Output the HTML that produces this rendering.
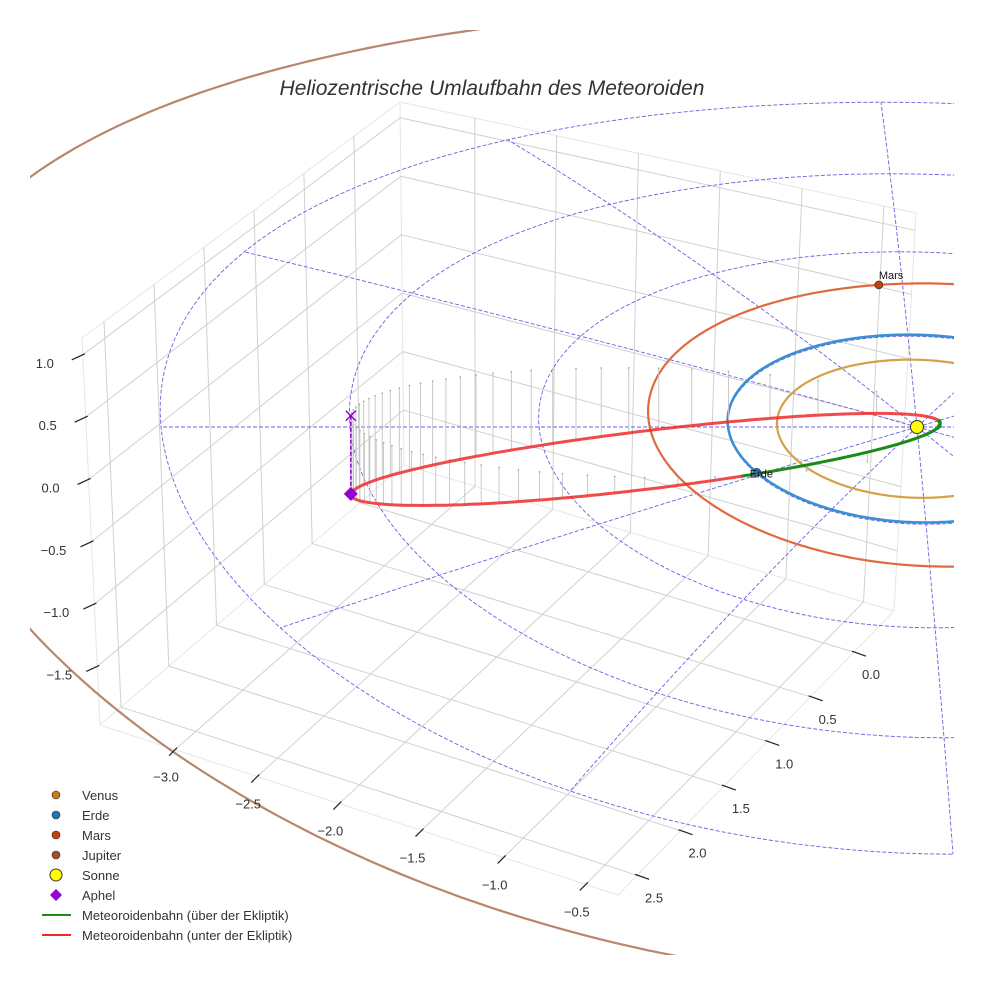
<!DOCTYPE html>
<html><head><meta charset="utf-8"><style>
html,body{margin:0;padding:0;background:#fff;}
svg{display:block;font-family:"Liberation Sans",sans-serif;}
</style></head><body>
<svg id="chart" width="984" height="984" viewBox="0 0 984 984" xmlns="http://www.w3.org/2000/svg">
<defs><clipPath id="clip"><rect x="30" y="30" width="924" height="925"/></clipPath></defs>
<rect width="984" height="984" fill="#fff"/>
<g id="grid" clip-path="url(#clip)"></g>
<g id="eclip" clip-path="url(#clip)"></g>
<g id="orbits" clip-path="url(#clip)"></g>
<g id="meteor" clip-path="url(#clip)"></g>
<g id="ticks"></g>
<text x="492" y="95" text-anchor="middle" font-size="21" font-style="italic" fill="#333">Heliozentrische Umlaufbahn des Meteoroiden</text>
<g id="legend"></g>
</svg>
<script>
// ---- data ----
const xTicks = [-3.0, -2.5, -2.0, -1.5, -1.0, -0.5];
const yTicks = [0.0, 0.5, 1.0, 1.5, 2.0, 2.5];
const zTicks = [-1.5, -1.0, -0.5, 0.0, 0.5, 1.0];
const xRange = [-3.457, -0.304];
const yRange = [-0.461, 2.72];
const zRange = [-1.97, 1.135];
const planetNames = ["Venus", "Erde", "Mars", "Jupiter"];
const planetA = [0.735, 1.0, 1.52, 5.3];
const planetE = [0.007, 0.017, 0.093, 0.047];
const planetPeri = [0, 90, 135, 90];
const planetPosAngle = [20, 151.4, 265.5, 10];
const planetColors = ["#d4a04a", "#3b8fd4", "#e06a40", "#b8866c"];
const planetDotColors = ["#c87c1a", "#1f77b4", "#c8400a", "#a0522d"];
const polarRadii = [1, 2, 3, 4];
const polarAngles = [0, 30, 60, 90, 120, 150, 180, 210, 240, 270, 300, 330];
const meteorQ = [0.125];
const aphelionPos = [-2.99, -0.12, -0.63];
const nodeLongitude = [151.4];
const stemCount = [60];

const NS = "http://www.w3.org/2000/svg";
function mk(parent, tag, attrs){ const el=document.createElementNS(NS,tag); for(const k in attrs) el.setAttribute(k,attrs[k]); parent.appendChild(el); return el; }
// ecliptic projection (u,v in AU, z in AU)
function P(u,v,z){ return [917 + 189*u + 9*v, 427 + 94*v + 3.2*v*v - 124*z]; }
function pathD(pts){ return pts.map((p,i)=>(i?'L':'M')+p[0].toFixed(1)+' '+p[1].toFixed(1)).join(''); }

// ---- box faces (bilinear) ----
function bil(c00,c10,c01,c11,s,t){ return [
 c00[0]*(1-s)*(1-t)+c10[0]*s*(1-t)+c01[0]*(1-s)*t+c11[0]*s*t,
 c00[1]*(1-s)*(1-t)+c10[1]*s*(1-t)+c01[1]*(1-s)*t+c11[1]*s*t]; }
const fx = x=>(x-xRange[0])/(xRange[1]-xRange[0]);
const fy = y=>(y-yRange[0])/(yRange[1]-yRange[0]);
const fz = z=>(z-zRange[0])/(zRange[1]-zRange[0]);
const L = {a:[404,465],b:[100,725],c:[400,102],d:[82,338]};   // left wall: s=y, t=z
const B = {a:[404,465],b:[894,611],c:[400,102],d:[916,213]};  // back wall: s=x, t=z
const F = {a:[404,465],b:[894,611],c:[100,725],d:[618,895]};  // floor: s=x, t=y
const left=(y,z)=>bil(L.a,L.b,L.c,L.d,fy(y),fz(z));
const back=(x,z)=>bil(B.a,B.b,B.c,B.d,fx(x),fz(z));
const floor=(x,y)=>bil(F.a,F.b,F.c,F.d,fx(x),fy(y));
const grid=document.getElementById('grid');
function gl(p,q,name,col){ const l=mk(grid,'line',{x1:p[0],y1:p[1],x2:q[0],y2:q[1],stroke:col||'#d0d0d0','stroke-width':1});
   }
[[L.a,L.b],[L.b,L.d],[L.d,L.c],[L.c,L.a],[B.a,B.b],[B.b,B.d],[B.d,B.c],[F.b,F.d],[F.d,F.c]].forEach(e=>gl(e[0],e[1],'pane-edge','#e6e6e6'));
yTicks.forEach(y=>{ gl(left(y,zRange[0]),left(y,zRange[1]),'left-wall-gridline'); gl(floor(xRange[0],y),floor(xRange[1],y),'floor-gridline'); });
zTicks.forEach(z=>{ gl(left(yRange[0],z),left(yRange[1],z),'left-wall-gridline'); gl(back(xRange[0],z),back(xRange[1],z),'back-wall-gridline'); });
xTicks.forEach(x=>{ gl(back(x,zRange[0]),back(x,zRange[1]),'back-wall-gridline'); gl(floor(x,yRange[0]),floor(x,yRange[1]),'floor-gridline'); });

// ---- ticks ----
const tk=document.getElementById('ticks');
function tick(p,d1,d2,off,label,name){
 const l=mk(tk,'line',{x1:p[0]+d1[0],y1:p[1]+d1[1],x2:p[0]+d2[0],y2:p[1]+d2[1],stroke:'#222','stroke-width':1.2});
  
 const t=mk(tk,'text',{x:p[0]+off[0],y:p[1]+off[1]+5,'text-anchor':'middle','font-size':13,fill:'#333'});
 t.textContent=label.toFixed(1).replace('-','\u2212');
  
}
xTicks.forEach(x=>tick(floor(x,yRange[1]),[-6,6],[2,-2],[-9,27],x,'x-axis'));
yTicks.forEach(y=>tick(floor(xRange[1],y),[-2,-1],[12,4],[17,22],y,'y-axis'));
zTicks.forEach(z=>tick(left(yRange[1],z),[-11,5],[2,-1],[-38,8],z,'z-axis'));

// ---- ecliptic polar grid ----
const ec=document.getElementById('eclip');
polarRadii.forEach(r=>{ const pts=[]; for(let a=0;a<=360;a+=2){ const t=a*Math.PI/180; pts.push(P(r*Math.cos(t),r*Math.sin(t),0)); }
 const p=mk(ec,'path',{d:pathD(pts)+'Z',fill:'none',stroke:'#6a5fe0','stroke-width':0.9,'stroke-dasharray':'4 2'});
   });
polarAngles.forEach(a=>{ const t=a*Math.PI/180, R=polarRadii[polarRadii.length-1]; const pts=[];
 for(let k=0;k<=20;k++){ const r=R*k/20; pts.push(P(r*Math.cos(t),r*Math.sin(t),0)); }
 const p=mk(ec,'path',{d:pathD(pts),fill:'none',stroke:'#6a5fe0','stroke-width':0.9,'stroke-dasharray':'4 2'});
   });

// ---- planet orbits ----
const og=document.getElementById('orbits');
function planetPoint(i,angDeg){ const t=angDeg*Math.PI/180, w=planetPeri[i]*Math.PI/180;
 const r=planetA[i]*(1-planetE[i]**2)/(1+planetE[i]*Math.cos(t-w)); return P(r*Math.cos(t),r*Math.sin(t),0); }
planetNames.forEach((n,i)=>{ const pts=[]; for(let a=0;a<=360;a+=1) pts.push(planetPoint(i,a));
 const p=mk(og,'path',{d:pathD(pts),fill:'none',stroke:planetColors[i],'stroke-width':i===1?2.6:2.2});
   });

// ---- meteoroid orbit ----
const mg=document.getElementById('meteor');
const Q=Math.hypot(...aphelionPos), q=meteorQ[0], a=(Q+q)/2, e=(Q-q)/(Q+q);
const ph=aphelionPos.map(c=>-c/Q);
const nl=nodeLongitude[0]*Math.PI/180, nh=[Math.cos(nl),Math.sin(nl),0];
const dp=nh[0]*ph[0]+nh[1]*ph[1]+nh[2]*ph[2];
let mh=nh.map((c,k)=>c-dp*ph[k]); const ml=Math.hypot(...mh); mh=mh.map(c=>c/ml);
function orb(th){ const r=a*(1-e*e)/(1+e*Math.cos(th)); return [0,1,2].map(k=>r*(Math.cos(th)*ph[k]+Math.sin(th)*mh[k])); }
// stems
for(let k=0;k<stemCount[0];k++){ const M=2*Math.PI*k/stemCount[0]; let E=M; for(let it=0;it<50;it++) E=E-(E-e*Math.sin(E)-M)/(1-e*Math.cos(E));
 const th=2*Math.atan(Math.sqrt((1+e)/(1-e))*Math.tan(E/2)); const s=orb(th); const p1=P(s[0],s[1],s[2]), p0=P(s[0],s[1],0);
 const l=mk(mg,'line',{x1:p1[0],y1:p1[1],x2:p0[0],y2:p0[1],stroke:'#c4c4c4','stroke-width':0.9});
  
 const d=mk(mg,'circle',{cx:p0[0],cy:p0[1],r:0.9,fill:'#aaa'});
   }
// orbit segments
let seg=[], sign=null; const segs=[];
for(let i=0;i<=720;i++){ const th=-Math.PI+2*Math.PI*i/720; const s=orb(th); const sg=s[2]>=0; const pt=P(s[0],s[1],s[2]);
 if(sign!==null && sg!==sign){ seg.push(pt); segs.push([sign,seg]); seg=[]; }
 seg.push(pt); sign=sg; }
segs.push([sign,seg]);
segs.forEach(([up,pts])=>{ const p=mk(mg,'path',{d:pathD(pts),fill:'none',stroke:up?'#1a8a1a':'#ee2a2a','stroke-width':3,'stroke-opacity':up?1:0.85,'stroke-linecap':'round'});
   });
// aphelion
const ap=P(aphelionPos[0],aphelionPos[1],aphelionPos[2]), ap0=P(aphelionPos[0],aphelionPos[1],0);
let el=mk(mg,'line',{x1:ap0[0],y1:ap0[1],x2:ap[0],y2:ap[1],stroke:'#9400d3','stroke-width':1.5,'stroke-dasharray':'4 2'});
 
el=mk(mg,'path',{d:`M${ap0[0]-5} ${ap0[1]-5}L${ap0[0]+5} ${ap0[1]+5}M${ap0[0]-5} ${ap0[1]+5}L${ap0[0]+5} ${ap0[1]-5}`,stroke:'#9400d3','stroke-width':1.5});
 
el=mk(mg,'path',{d:`M${ap[0]} ${ap[1]-7}L${ap[0]+7} ${ap[1]}L${ap[0]} ${ap[1]+7}L${ap[0]-7} ${ap[1]}Z`,fill:'#9400d3'});
 
// planets & sun
[1,2].forEach(i=>{ const p=planetPoint(i,planetPosAngle[i]);
 const c=mk(mg,'circle',{cx:p[0],cy:p[1],r:4,fill:planetDotColors[i],stroke:'#222','stroke-width':0.6});
  
 const t=mk(mg,'text',{x:p[0]+(i===1?-7:0),y:p[1]+(i===1?5:-6),'font-size':11,fill:'#111'}); t.textContent=planetNames[i];
   });
const sp=P(0,0,0);
el=mk(mg,'circle',{cx:sp[0],cy:sp[1],r:6.5,fill:'#ffff00',stroke:'#333','stroke-width':1});
 

// ---- legend ----
const lg=document.getElementById('legend');
const legendLabels=["Venus","Erde","Mars","Jupiter","Sonne","Aphel","Meteoroidenbahn (über der Ekliptik)","Meteoroidenbahn (unter der Ekliptik)"];
legendLabels.forEach((lab,i)=>{ const y=795+20*i; let m;
 if(i<4) m=mk(lg,'circle',{cx:56,cy:y,r:4,fill:planetDotColors[i],stroke:'#222','stroke-width':0.6});
 else if(i===4) m=mk(lg,'circle',{cx:56,cy:y,r:6,fill:'#ffff00',stroke:'#333','stroke-width':1});
 else if(i===5) m=mk(lg,'path',{d:`M56 ${y-6}L62 ${y}L56 ${y+6}L50 ${y}Z`,fill:'#9400d3'});
 else m=mk(lg,'line',{x1:42,y1:y,x2:71,y2:y,stroke:i===6?'#1a8a1a':'#ee2a2a','stroke-width':2});
  
 const t=mk(lg,'text',{x:82,y:y+5,'font-size':13,fill:'#333'}); t.textContent=lab;
   });
</script>
</body></html>
